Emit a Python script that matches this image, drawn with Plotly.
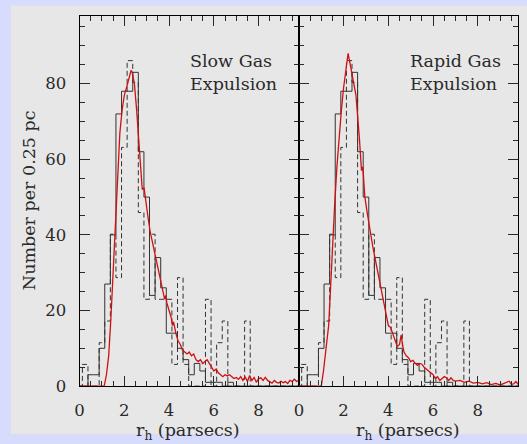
import numpy as np
import plotly.graph_objects as go

# Histogram bin centres (pc); bins are 0.25 pc wide
bin_centres = [0.25 * k for k in range(1, 40)]

# Solid histogram: simulated cluster counts per 0.25 pc
solid_counts = [0, 3, 3, 10, 27, 40, 72, 78, 78, 83, 62, 50, 24, 34, 26, 14,
                14, 10, 7, 3, 6, 4, 1, 1, 1, 0, 1, 0, 0, 0, 0, 0, 0, 0, 0,
                0, 0, 0, 0]

# Dashed histogram: observed counts (scaled by 5.74)
dashed_raw = [1, 0, 0, 2, 3, 7, 5, 11, 15, 14, 8, 4, 7, 4, 4, 4, 1, 5, 1,
              0, 0, 0, 4, 0, 2, 3, 0, 0, 0, 3, 0, 0, 0, 0, 0, 0, 0, 0, 0]
dashed_scale = 5.74

# Model curves
slow_r = [0.0, 0.5, 1.0, 1.1, 1.2, 1.3, 1.4, 1.5, 1.6, 1.7, 1.8, 1.9, 2.0, 2.1,
          2.2, 2.3, 2.35, 2.45, 2.55, 2.65, 2.75, 2.8, 2.88, 2.95, 3.05, 3.15,
          3.3, 3.4, 3.5, 3.6, 3.7, 3.8, 3.85, 3.9, 4.0, 4.1, 4.15, 4.2, 4.3,
          4.4, 4.5, 4.6, 4.7, 4.8, 4.9, 5.0, 5.1, 5.2, 5.3, 5.4, 5.5, 5.6,
          5.7, 5.8, 5.9, 6.0, 6.1, 6.2, 6.3, 6.4, 6.5, 6.6, 6.7, 6.8, 6.9,
          7.0, 7.1, 7.2, 7.3, 7.4, 7.5, 7.6, 7.7, 7.8, 7.9, 8.0, 8.1, 8.2,
          8.3, 8.4, 8.5, 8.6, 8.7, 8.8, 8.9, 9.0, 9.1, 9.2, 9.3, 9.4, 9.5,
          9.6, 9.7, 9.8]
slow_n = [0, 0, 0, 0, 3, 8, 18, 30, 44, 57, 67, 73, 77, 79,
          81.5, 83.5, 83, 80, 73, 64, 55, 52, 52.5, 49, 45, 41,
          37, 34, 31, 29, 26, 23, 24, 22, 20, 18, 16, 17, 14,
          12, 11, 9.5, 9, 8.5, 9, 8, 8.5, 7, 6.5, 7, 6, 6.5,
          7, 6, 5, 4, 4.5, 3.5, 3, 2.5, 3, 2.7, 3, 2.5, 2,
          2.3, 1.8, 2.5, 1.5, 2.5, 1.2, 2.8, 1.5, 2.3, 1, 2, 2.2, 1.5,
          2.3, 1.5, 1.2, 0.8, 1.5, 1, 0.8, 1.3, 0.9, 1.2, 0.7, 1.5, 1.2,
          1.8, 1.2, 1.5]

rapid_r = [0.0, 0.5, 1.0, 1.1, 1.2, 1.33, 1.4, 1.5, 1.6, 1.7, 1.8, 1.9, 2.0,
           2.1, 2.2, 2.3, 2.4, 2.55, 2.7, 2.8, 2.86, 2.95, 3.05, 3.15, 3.3,
           3.4, 3.5, 3.6, 3.7, 3.8, 3.9, 4.0, 4.1, 4.2, 4.3, 4.4, 4.5, 4.57,
           4.65, 4.7, 4.8, 4.9, 5.0, 5.1, 5.2, 5.3, 5.4, 5.5, 5.6, 5.7, 5.8,
           5.9, 6.0, 6.1, 6.2, 6.3, 6.4, 6.5, 6.6, 6.7, 6.8, 6.9, 7.0, 7.2,
           7.4, 7.6, 7.8, 8.0, 8.2, 8.4, 8.6, 8.8, 9.0, 9.2, 9.4, 9.5, 9.6,
           9.7, 9.8]
rapid_n = [0, 0, 0, 4, 9, 16, 24, 37, 48, 58, 67, 73, 79,
           84, 88, 85, 82, 77, 66, 57, 58, 50, 46, 42, 37,
           34, 31, 29, 26, 23, 20, 16, 15.5, 14, 12, 10.5, 11, 13.5,
           10.5, 9, 8, 7.5, 6.5, 6.8, 6, 5.5, 6, 5.8, 5, 4.5, 4,
           3.5, 3, 2, 2.5, 1.5, 2, 2.5, 2.2, 1.5, 2.2, 1.5, 1.3, 1.5,
           1, 1.3, 0.8, 1, 0.6, 0.9, 0.4, 0.7, 0.3, 0.8, 1.3, 0.5, 0.6,
           1.2, 0.5]

panel_labels = ["Slow Gas<br>Expulsion", "Rapid Gas<br>Expulsion"]
x_ticks = [0, 2, 4, 6, 8]

FONT = "DejaVu Serif"
INK = "#2a2a2a"


def step_xy(centres, values, width=0.25):
    """Turn bin centres/values into an 'hv' step outline."""
    c = np.asarray(centres, float)
    v = np.asarray(values, float)
    xs = np.concatenate([[0.0], c - width / 2, [c[-1] + width / 2]])
    ys = np.concatenate([[0.0], v, [v[-1]]])
    return xs, ys


fig = go.Figure()
dashed_vals = [d * dashed_scale for d in dashed_raw]
xs_s, ys_s = step_xy(bin_centres, solid_counts)
xs_d, ys_d = step_xy(bin_centres, dashed_vals)

curves = [(slow_r, slow_n), (rapid_r, rapid_n)]
for i, suffix in enumerate(["", "2"]):
    xa, ya = "x" + suffix, "y" + suffix
    fig.add_trace(go.Scatter(x=xs_d, y=ys_d, mode="lines", line_shape="hv",
                             line=dict(color="#333333", width=1.0, dash="5px,3px"),
                             xaxis=xa, yaxis=ya, showlegend=False, hoverinfo="skip"))
    fig.add_trace(go.Scatter(x=xs_s, y=ys_s, mode="lines", line_shape="hv",
                             line=dict(color="#333333", width=1.0),
                             xaxis=xa, yaxis=ya, showlegend=False, hoverinfo="skip"))
    fig.add_trace(go.Scatter(x=curves[i][0], y=curves[i][1], mode="lines",
                             line=dict(color="#d01010", width=1.3),
                             xaxis=xa, yaxis=ya, showlegend=False, hoverinfo="skip"))

W, H = 527, 444
left_px, mid_px, right_px = 75.3, 296.7, 518.0
top_px, bot_px = 16.0, 395.0
ydom = [1 - bot_px / H, 1 - top_px / H]

axis_common = dict(
    range=[0, 9.8], tickvals=x_ticks, ticks="inside", ticklen=10, tickwidth=1,
    tickcolor=INK, showline=True, linecolor="black", linewidth=1.2,
    mirror="ticks", showgrid=False, zeroline=False, ticklabelstandoff=9,
    minor=dict(dtick=0.5, ticks="inside", ticklen=5, tickcolor=INK, showgrid=False),
    tickfont=dict(family=FONT, size=16.5, color=INK),
)
yaxis_common = dict(
    range=[0, 98], dtick=20, ticks="inside", ticklen=10, tickwidth=1,
    tickcolor=INK, showline=True, linecolor="black", linewidth=1.2,
    mirror="ticks", showgrid=False, zeroline=False,
    minor=dict(dtick=5, ticks="inside", ticklen=5, tickcolor=INK, showgrid=False),
)

fig.update_layout(
    width=W, height=H,
    margin=dict(l=0, r=0, t=0, b=0),
    paper_bgcolor="#d7dcfc",
    plot_bgcolor="#e7e7e7",
    xaxis=dict(domain=[left_px / W, mid_px / W], anchor="y", **axis_common),
    xaxis2=dict(domain=[mid_px / W, right_px / W], anchor="y2", **axis_common),
    yaxis=dict(domain=ydom, anchor="x", ticklabelstandoff=9,
               tickfont=dict(family=FONT, size=16.5, color=INK), **yaxis_common),
    yaxis2=dict(domain=ydom, anchor="x2", matches="y", showticklabels=False,
                **yaxis_common),
    shapes=[dict(type="rect", xref="paper", yref="paper", x0=6 / W, x1=1,
                 y0=0, y1=1 - 6 / H, fillcolor="#e7e7e7", line_width=0,
                 layer="below")],
)

# Axis titles and panel labels
for xc in (185, 407):
    fig.add_annotation(x=xc / W, y=3 / H, xref="paper", yref="paper",
                       xanchor="center", yanchor="middle",
                       text="r<sub>h</sub> (parsecs)", showarrow=False,
                       font=dict(family=FONT, size=17.5, color=INK))
for xl, lbl in [(185, panel_labels[0]), (407, panel_labels[1])]:
    fig.add_annotation(x=xl / W, y=1 - 50 / H, xref="paper", yref="paper",
                       xanchor="left", yanchor="top", align="left",
                       text=lbl, showarrow=False,
                       font=dict(family=FONT, size=17.5, color=INK))
fig.add_annotation(x=25 / W, y=1 - 205 / H, xref="paper", yref="paper",
                   xanchor="center", yanchor="middle",
                   text="Number per 0.25 pc", textangle=-90, showarrow=False,
                   font=dict(family=FONT, size=17.5, color=INK))

fig.write_html("out.html")
